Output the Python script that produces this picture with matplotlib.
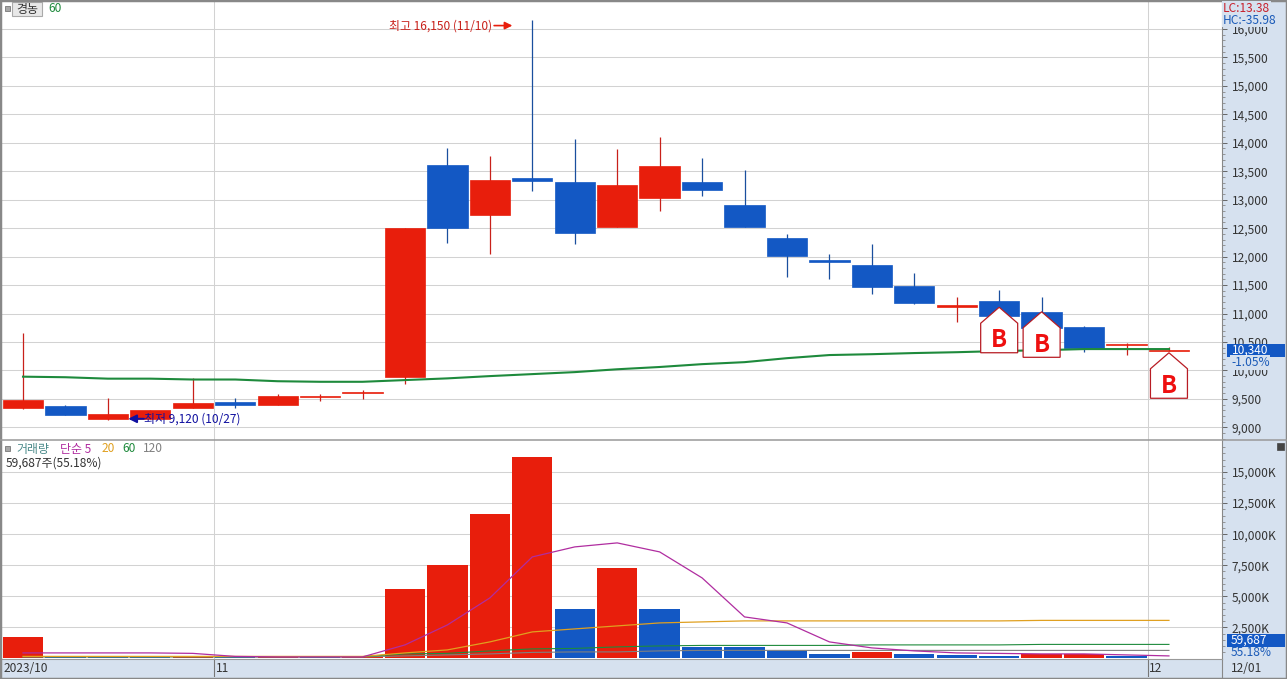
import numpy as np
from matplotlib import pyplot as plt
from matplotlib.patches import Polygon, Rectangle
from matplotlib.ticker import FixedLocator, FuncFormatter
from matplotlib.transforms import IdentityTransform

plt.rcParams['font.family'] = ['Noto Sans CJK KR', 'DejaVu Sans']

#candles, 28 sessions
opens = [9340, 9370, 9140, 9150, 9340, 9440, 9390, 9530, 9600, 9880, 13610, 12730, 13380, 13310, 12520, 13030, 13310, 12910, 12330, 11940, 11850, 11480, 11110, 11220, 11020, 10760, 10440, 10340]
closes = [9480, 9210, 9230, 9300, 9420, 9390, 9550, 9550, 9620, 12500, 12500, 13350, 13330, 12410, 13260, 13590, 13170, 12520, 12010, 11900, 11460, 11180, 11150, 10950, 10740, 10390, 10460, 10350]
highs = [10660, 9390, 9510, 9300, 9860, 9510, 9580, 9580, 9650, 12500, 13910, 13770, 16150, 14070, 13890, 14100, 13730, 13520, 12400, 12050, 12220, 11710, 11290, 11410, 11290, 10780, 10480, 10420]
lows = [9320, 9210, 9120, 9150, 9340, 9340, 9390, 9460, 9490, 9760, 12240, 12050, 13150, 12220, 12520, 12800, 13070, 12520, 11640, 11610, 11340, 11170, 10850, 10950, 10740, 10320, 10270, 10340]
price_ma60 = [9890, 9880, 9855, 9855, 9840, 9840, 9810, 9800, 9800, 9830, 9860, 9900, 9935, 9970, 10020, 10060, 10110, 10145, 10215, 10270, 10285, 10305, 10320, 10340, 10355, 10375, 10375, 10375]

#volume in thousands of shares
volume = [1730, 100, 100, 100, 110, 100, 110, 100, 120, 5595, 7527, 11632, 16220, 3985, 7285, 3985, 926, 926, 604, 362, 523, 362, 280, 200, 320, 320, 160, 60]
vol_colors = ["r", "b", "b", "b", "r", "b", "r", "b", "r", "r", "r", "r", "r", "b", "r", "b", "b", "b", "b", "b", "r", "b", "b", "b", "r", "r", "b", "b"]
vol_ma5 = [442, 442, 442, 442, 405, 161, 120, 120, 120, 1087, 2697, 4870, 8170, 8976, 9298, 8573, 6480, 3340, 2857, 1329, 845, 604, 442, 403, 362, 362, 281, 201]
vol_ma20 = [161, 161, 161, 161, 161, 161, 161, 161, 161, 442, 684, 1329, 2133, 2375, 2616, 2857, 2938, 3019, 3019, 3019, 3019, 3019, 3019, 3019, 3060, 3060, 3060, 3060]
vol_ma60 = [140, 140, 140, 140, 140, 140, 140, 140, 140, 362, 405, 604, 765, 805, 926, 1006, 1046, 1046, 1046, 1046, 1087, 1087, 1087, 1087, 1127, 1127, 1127, 1127]
vol_ma120 = [121, 121, 121, 121, 121, 121, 121, 121, 121, 201, 281, 362, 483, 523, 523, 604, 644, 644, 644, 644, 644, 644, 644, 644, 644, 644, 644, 644]

#buy signals
signal_idx = [23, 24, 27]
signal_price = [11110, 11030, 10310]

price_ticks = list(range(9000, 16500, 500))
vol_ticks = list(range(2500, 17500, 2500))
month_pos = [4.5, 26.5]
month_labels = ["11", "12"]

RED = "#e81e0c"
BLUE = "#1358c4"
GREEN = "#1e8a3c"
MAGENTA = "#b02da0"
ORANGE = "#e0a020"
GREY = "#808080"
PANEL = "#d6e1ef"
GRID = "#d2d2d2"
FS = 8.6

W, H = 1287, 679

def box(x0, y0, x1, y1):
    return [x0 / W, 1 - y1 / H, (x1 - x0) / W, (y1 - y0) / H]

def label(x, y, s, **kw):
    #text placed by pixel position
    kw.setdefault("va", "center")
    kw.setdefault("fontsize", FS)
    return fig.text(x / W, 1 - y / H, s, **kw)

fig = plt.figure(figsize=(W / 100, H / 100), dpi=100, facecolor=PANEL)
ax1 = fig.add_axes(box(2, 1, 1222, 440))
ax2 = fig.add_axes(box(2, 440, 1222, 659), sharex=ax1)
ax3 = fig.add_axes(box(2, 659, 1222, 677), sharex=ax1, facecolor=PANEL)

x = np.arange(len(opens))
ax1.set_xlim(-0.495, 28.25)
ax1.set_ylim(8777, 16492)
ax2.set_ylim(-48, 17581)
ax3.set_ylim(0, 1)

#price panel
colors = [RED if c >= o else BLUE for o, c in zip(opens, closes)]
wick_colors = ["#c8201a" if c == RED else "#1a4f9e" for c in colors]
ax1.vlines(x, lows, highs, colors=wick_colors, linewidth=0.9, zorder=2)
bottoms = np.minimum(opens, closes)
heights = np.abs(np.array(opens) - np.array(closes))
ax1.bar(x, heights, bottom=bottoms, width=0.95, color=colors, edgecolor=colors, linewidth=0.5, zorder=3)
ax1.plot(x, price_ma60, color=GREEN, linewidth=1.5, zorder=4)

ax1.text(11.05, 16060, "최고 16,150 (11/10)", color="#c8201a", ha="right", va="center", fontsize=FS, zorder=5)
ax1.annotate("", xy=(11.53, 16060), xytext=(11.1, 16060), arrowprops=dict(arrowstyle="-|>", color=RED, lw=1.2, shrinkA=0, shrinkB=0, mutation_scale=11), zorder=5)
ax1.text(2.85, 9150, "최저 9,120 (10/27)", color="#1010a0", ha="left", va="center", fontsize=FS, zorder=6)
ax1.annotate("", xy=(2.48, 9150), xytext=(2.85, 9150), arrowprops=dict(arrowstyle="-|>", color="#1010a0", lw=1.4, shrinkA=0, shrinkB=0, mutation_scale=12), zorder=6)

#volume panel
ax2.bar(x, volume, width=0.95, color=[RED if c == "r" else BLUE for c in vol_colors], zorder=2)
ax2.plot(x, vol_ma120, color=GREY, linewidth=0.8, zorder=3)
ax2.plot(x, vol_ma60, color=GREEN, linewidth=0.8, zorder=4)
ax2.plot(x, vol_ma20, color=ORANGE, linewidth=0.9, zorder=5)
ax2.plot(x, vol_ma5, color=MAGENTA, linewidth=0.9, zorder=6)

for ax, ticks, minor in [(ax1, price_ticks, range(8800, 16500, 100)), (ax2, vol_ticks, range(500, 17500, 500))]:
    ax.yaxis.tick_right()
    ax.set_yticks(ticks)
    ax.yaxis.set_minor_locator(FixedLocator(list(minor)))
    ax.tick_params(axis="y", which="major", length=3.6, width=0.7, color="#666666", labelcolor="#333333", labelsize=FS, pad=3.5)
    ax.tick_params(axis="y", which="minor", length=2, width=0.6, color="#888888")
    ax.tick_params(axis="x", length=0, labelbottom=False)
    ax.grid(True, axis="y", color=GRID, linewidth=0.75, zorder=0)
    ax.set_axisbelow(True)
    for pos in month_pos:
        ax.axvline(pos, color=GRID, linewidth=0.75, zorder=1)
    for s in ["top", "left", "bottom"]:
        ax.spines[s].set_visible(False)
    ax.spines["right"].set_color("#888888")

ax1.yaxis.set_major_formatter(FuncFormatter(lambda v, p: f"{int(v):,}"))
ax2.yaxis.set_major_formatter(FuncFormatter(lambda v, p: f"{int(v):,}K"))

#date strip
ax3.set_yticks([])
ax3.tick_params(axis="x", length=0, labelbottom=False)
for s in ["left", "bottom"]:
    ax3.spines[s].set_visible(False)
ax3.spines["right"].set_color("#888888")
ax3.spines["top"].set_color("#999999")
for pos, s in zip(month_pos, month_labels):
    ax3.axvline(pos, color="#777777", linewidth=0.8)
    ax3.text(pos + 0.04, 0.45, s, color="#333333", fontsize=FS, va="center")
ax3.text(-0.46, 0.45, "2023/10", color="#333333", fontsize=FS, va="center")
label(1231, 668, "12/01", color="#333333")

#divider between the panels
fig.add_artist(plt.Line2D([0, 1], [1 - 440 / H, 1 - 440 / H], color="#999999", linewidth=1.1))

#buy signal houses
fig.canvas.draw()
for i, p in zip(signal_idx, signal_price):
    tx, ty = ax1.transData.transform((i, p))
    verts = [(tx, ty), (tx + 18.5, ty - 16), (tx + 18.5, ty - 45.5), (tx - 18.5, ty - 45.5), (tx - 18.5, ty - 16)]
    ax1.add_patch(Polygon(verts, closed=True, facecolor="white", edgecolor="#b81c24", linewidth=0.9, transform=IdentityTransform(), zorder=7, clip_on=False))
    ax1.annotate("B", xy=(i, p), xytext=(0, -33), textcoords="offset pixels", color="#ee1010", fontsize=17, fontweight="bold", ha="center", va="center", zorder=8)

#header of the price panel
fig.add_artist(Rectangle((5 / W, 1 - 11 / H), 5 / W, 5 / H, facecolor="#a8a8a8", edgecolor="#777777", linewidth=0.6))
fig.add_artist(Rectangle((12 / W, 1 - 16 / H), 30 / W, 14 / H, facecolor="#e8e8e8", edgecolor="#aaaaaa", linewidth=0.8))
label(27, 9, "경농", color="#333333", ha="center", zorder=10)
label(48, 9, "60", color=GREEN)

#header of the volume panel
fig.add_artist(Rectangle((5 / W, 1 - 451 / H), 5 / W, 5 / H, facecolor="#a8a8a8", edgecolor="#777777", linewidth=0.6))
label(16, 449, "거래량", color="#4a8a8a")
label(60, 449, "단순 5", color=MAGENTA)
label(102, 449, "20", color=ORANGE)
label(122, 449, "60", color=GREEN)
label(143, 449, "120", color=GREY)
label(6, 463, "59,687주(55.18%)", color="#333333")
fig.add_artist(Rectangle((1277 / W, 1 - 450 / H), 7 / W, 7 / H, facecolor="#444444", edgecolor="#444444", linewidth=0.5))

#right side labels
bg = dict(facecolor=PANEL, edgecolor="none", pad=0.5)
label(1223, 8, "LC:13.38", color="#c8202c", bbox=bg, zorder=10)
label(1223, 20, "HC:-35.98", color="#1a5ab8", bbox=bg, zorder=10)
fig.add_artist(Rectangle((1227 / W, 1 - 357 / H), 58 / W, 13 / H, facecolor=BLUE, edgecolor="none", zorder=9))
label(1232, 350.5, "10,340", color="white", zorder=10)
label(1231, 362.5, "-1.05%", color="#1a5ab8", bbox=bg, zorder=9)
fig.add_artist(Rectangle((1227 / W, 1 - 647 / H), 58 / W, 13 / H, facecolor=BLUE, edgecolor="none", zorder=9))
label(1231, 640.5, "59,687", color="white", zorder=10)
label(1231, 652.5, "55.18%", color="#1a5ab8", zorder=10)

#outer frame
fig.add_artist(Rectangle((0, 0), 1, 1, fill=False, edgecolor="#888888", linewidth=2.5))

plt.savefig("out.png", dpi=100)
